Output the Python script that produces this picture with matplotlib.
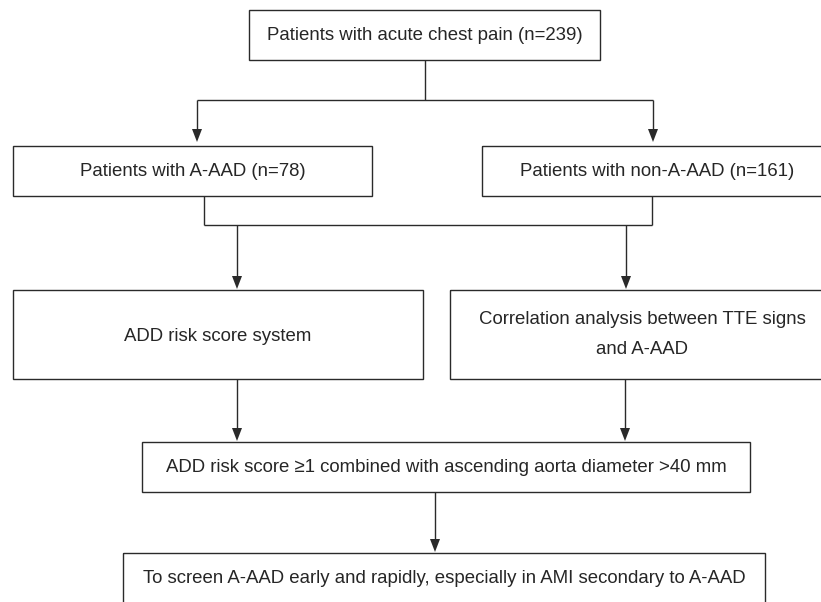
import matplotlib
matplotlib.use('Agg')
import matplotlib.pyplot as plt
from matplotlib.patches import Rectangle

plt.rcParams['font.family'] = ['Liberation Sans', 'DejaVu Sans']

# Box texts
top_text = 'Patients with acute chest pain (n=239)'
group_texts = ['Patients with A-AAD (n=78)', 'Patients with non-A-AAD (n=161)']
method_texts = ['ADD risk score system', 'Correlation analysis between TTE signs\nand A-AAD']
combined_text = 'ADD risk score \u22651 combined with ascending aorta diameter >40 mm'
final_text = 'To screen A-AAD early and rapidly, especially in AMI secondary to A-AAD'

# Layout in pixels (x0, y0, x1, y1), y grows downward
top_box = (249, 10, 600, 60)
group_boxes = [(13, 146, 372, 196), (482, 146, 832, 196)]
method_boxes = [(13, 290, 423, 379), (450, 290, 834, 379)]
combined_box = (142, 442, 750, 492)
final_box = (123, 553, 765, 604)

line_col = '#2a2a2a'
text_col = '#262626'
fs = 13.4

fig = plt.figure(figsize=(8.21, 6.02), dpi=100)
ax = fig.add_axes([0, 0, 1, 1])
ax.set_xlim(0, 821)
ax.set_ylim(602, 0)
ax.axis('off')


def box(b, text, linespacing=1.2, dy=0):
    x0, y0, x1, y1 = b
    ax.add_patch(Rectangle((x0, y0), x1 - x0, y1 - y0, fill=False,
                           edgecolor=line_col, lw=1.0))
    ax.text((x0 + x1) / 2, (y0 + y1) / 2 + dy, text, ha='center', va='center',
            fontsize=fs, color=text_col, linespacing=linespacing)


def line(x0, y0, x1, y1):
    ax.plot([x0, x1], [y0, y1], color=line_col, lw=1.0, solid_capstyle='butt')


def arrow(x, y0, y1, hl=13, hw=5):
    line(x, y0, x, y1 - hl + 1)
    ax.fill([x - hw, x + hw, x], [y1 - hl, y1 - hl, y1], color=line_col, lw=0)


box(top_box, top_text)
for b, t in zip(group_boxes, group_texts):
    box(b, t)
box(method_boxes[0], method_texts[0], dy=2)
box(method_boxes[1], method_texts[1], linespacing=2.0)
box(combined_box, combined_text)
box(final_box, final_text)

# top split
line(425, 60, 425, 100)
line(197, 100, 653, 100)
arrow(197, 100, 142)
arrow(653, 100, 142)

# join of the two groups
line(204, 196, 204, 225)
line(652, 196, 652, 225)
line(204, 225, 652, 225)
arrow(237, 225, 289)
arrow(626, 225, 289)

# methods to combined criterion
arrow(237, 379, 441)
arrow(625, 379, 441)

# combined to final
arrow(435, 492, 552)

plt.savefig('out.png', dpi=100)
